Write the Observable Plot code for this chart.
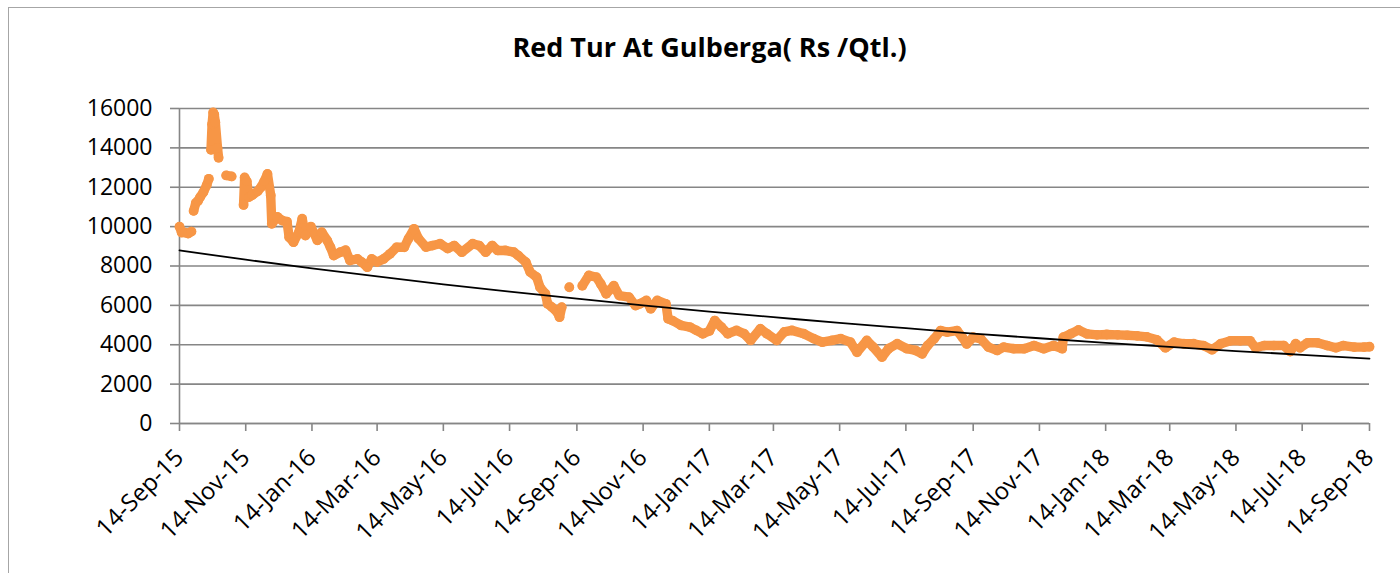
<!DOCTYPE html>
<html>
<head>
<meta charset="utf-8">
<script src="https://cdn.jsdelivr.net/npm/d3@7"></script>
<script src="https://cdn.jsdelivr.net/npm/@observablehq/plot@0.6"></script>
<style>
  body { margin: 0; background: #fff; }
  #wrap { position: relative; width: 1400px; height: 573px; overflow: hidden; font-family: "Open Sans", sans-serif; }
  #frame { position: absolute; left: 8px; top: 7px; width: 1430px; height: 620px; border: 1.5px solid #a6a6a6; box-sizing: border-box; }
  #title { position: absolute; left: 8px; width: 1403px; top: 33px; text-align: center; font-weight: 700; font-size: 27px; line-height: 1; color: #000; }
  #chart { position: absolute; left: 0; top: 0; }
</style>
</head>
<body>
<div id="wrap">
  <div id="frame"></div>
  <div id="chart"></div>
  <div id="title">Red Tur At Gulberga( Rs /Qtl.)</div>
</div>
<script>
// ---- Data ----
const dates = [
  "2015-09-14","2015-09-16","2015-09-19","2015-09-22","2015-09-25","2015-09-26",
  "2015-09-27","2015-09-29","2015-10-01","2015-10-03","2015-10-06","2015-10-09","2015-10-11","2015-10-12",
  "2015-10-13","2015-10-14","2015-10-15","2015-10-16","2015-10-17","2015-10-19","2015-10-20","2015-10-24",
  "2015-10-27","2015-11-01","2015-11-06",
  "2015-11-12","2015-11-13","2015-11-15","2015-11-17","2015-11-20","2015-11-25","2015-11-28","2015-12-01",
  "2015-12-04","2015-12-07","2015-12-08","2015-12-13","2015-12-18","2015-12-22","2015-12-24","2015-12-28",
  "2016-01-02","2016-01-05","2016-01-08","2016-01-13","2016-01-19","2016-01-23","2016-01-28","2016-01-31",
  "2016-02-03","2016-02-09","2016-02-14","2016-02-18","2016-02-25","2016-02-29","2016-03-05","2016-03-09",
  "2016-03-14","2016-03-20","2016-03-26","2016-04-01","2016-04-08","2016-04-12","2016-04-17","2016-04-21",
  "2016-04-28","2016-05-04","2016-05-11","2016-05-18","2016-05-24","2016-05-31","2016-06-10","2016-06-16",
  "2016-06-22","2016-06-28","2016-07-03","2016-07-10","2016-07-18","2016-07-22","2016-07-29","2016-08-02",
  "2016-08-08","2016-08-11","2016-08-16","2016-08-18","2016-08-22","2016-08-27","2016-08-29","2016-08-31",
  "2016-09-03","2016-09-07","2016-09-12",
  "2016-09-19","2016-09-25","2016-10-02","2016-10-06","2016-10-11","2016-10-18","2016-10-23","2016-11-01",
  "2016-11-07","2016-11-11","2016-11-17","2016-11-21","2016-11-27","2016-12-05","2016-12-07","2016-12-11",
  "2016-12-19","2016-12-27","2017-01-02","2017-01-08","2017-01-14","2017-01-19","2017-01-25","2017-01-31",
  "2017-02-08","2017-02-15","2017-02-21","2017-03-02","2017-03-08","2017-03-17","2017-03-24","2017-03-31",
  "2017-04-11","2017-04-20","2017-04-28","2017-05-07","2017-05-15","2017-05-24","2017-05-30","2017-06-08",
  "2017-06-14","2017-06-22","2017-06-28","2017-07-06","2017-07-15","2017-07-23","2017-07-29","2017-08-03",
  "2017-08-09","2017-08-15","2017-08-21","2017-08-30","2017-09-04","2017-09-08","2017-09-14","2017-09-21",
  "2017-09-28","2017-10-06","2017-10-12","2017-10-21","2017-10-31","2017-11-09","2017-11-18","2017-11-27",
  "2017-12-05","2017-12-06","2017-12-13","2017-12-20","2017-12-28","2018-01-06","2018-01-15","2018-01-25",
  "2018-02-03","2018-02-12","2018-02-21","2018-03-02","2018-03-10","2018-03-18","2018-03-27","2018-04-05",
  "2018-04-14","2018-04-22","2018-04-30","2018-05-09","2018-05-18","2018-05-27","2018-06-01","2018-06-09",
  "2018-06-18","2018-06-27","2018-07-03","2018-07-08","2018-07-12","2018-07-19","2018-07-28","2018-08-06",
  "2018-08-14","2018-08-21","2018-08-31","2018-09-09","2018-09-14"
];
const prices = [
  10000,9700,9700,9650,9750,null,
  10800,11200,11300,11500,11750,12100,12430,null,
  13900,15200,15800,15700,15300,14000,13500,null,
  12600,12550,null,
  11100,12500,12300,11500,11600,11800,12000,12300,
  12680,11600,10140,10500,10300,10250,9460,9210,
  9720,10400,9550,10000,9300,9720,9300,8960,
  8530,8700,8800,8280,8360,8190,7940,8360,
  8200,8360,8620,8950,8950,9400,9890,9400,
  8960,9040,9130,8890,9040,8700,9130,9040,
  8700,9040,8790,8790,8700,8530,8190,7690,
  7430,6920,6590,6080,5910,5650,5400,5910,
  null,6920,null,
  7000,7520,7430,7090,6590,7000,6500,6420,
  5990,6080,6250,5830,6250,6080,5320,5230,
  4980,4900,4730,4560,4700,5230,4900,4560,
  4730,4560,4220,4810,4560,4220,4650,4730,
  4560,4310,4130,4220,4310,4130,3620,4220,
  3880,3370,3800,4050,3800,3710,3540,3960,
  4300,4720,4640,4720,4380,4040,4380,4300,
  3880,3710,3880,3800,3800,3960,3800,3960,
  3800,4380,4560,4750,4550,4500,4520,4500,
  4480,4450,4400,4250,3850,4130,4050,4050,
  3960,3750,4050,4200,4200,4200,3850,3960,
  3960,3960,3650,4050,3850,4100,4100,3960,
  3850,3960,3880,3880,3900
];
const xTicks = [
  "2015-09-14","2015-11-14","2016-01-14","2016-03-14","2016-05-14","2016-07-14","2016-09-14",
  "2016-11-14","2017-01-14","2017-03-14","2017-05-14","2017-07-14","2017-09-14","2017-11-14",
  "2018-01-14","2018-03-14","2018-05-14","2018-07-14","2018-09-14"
];
const yTicks = [0, 2000, 4000, 6000, 8000, 10000, 12000, 14000, 16000];
// Exponential trendline values at each x tick date
const trendValues = [
  8790, 8320, 7880, 7470, 7070, 6700, 6340, 6000, 5680, 5400,
  5110, 4840, 4570, 4330, 4100, 3890, 3680, 3490, 3300
];

// ---- Build tables ----
const parse = d3.utcParse("%Y-%m-%d");
const rows = dates.map((d, i) => ({date: parse(d), price: prices[i]}));
const pts = rows.filter(d => d.price != null);
const xTickDates = xTicks.map(parse);
const trend = xTickDates.map((d, i) => ({date: d, value: trendValues[i]}));

const gray = "#868686";
const orange = "#F79646";
const fmt = d3.utcFormat("%d-%b-%y");

const chart = Plot.plot({
  width: 1400,
  height: 573,
  marginLeft: 179,
  marginRight: 31,
  marginTop: 108,
  marginBottom: 150,
  style: {fontFamily: '"Open Sans", sans-serif', fontSize: "23px", color: "#000", background: "transparent"},
  x: {type: "utc", domain: [xTickDates[0], xTickDates[xTickDates.length - 1]]},
  y: {domain: [0, 16000]},
  marks: [
    Plot.gridY(yTicks, {stroke: gray, strokeOpacity: 1, strokeWidth: 1.6}),
    Plot.axisY(yTicks, {tickSize: 9, tickPadding: 18, stroke: gray, strokeWidth: 1.6, tickFormat: d3.format("d"), fontSize: 23, label: null}),
    Plot.ruleX([xTickDates[0]], {stroke: gray, strokeWidth: 1.6}),
    Plot.axisX(xTickDates, {tickSize: 8, tickRotate: -45, tickPadding: 22, tickFormat: fmt, stroke: gray, strokeWidth: 1.6, fontSize: 24, label: null}),
    Plot.ruleY([0], {stroke: gray, strokeWidth: 1.6}),
    Plot.line(rows, {x: "date", y: "price", stroke: orange, strokeWidth: 9.4, strokeLinecap: "round", strokeLinejoin: "round"}),
    Plot.dot(pts, {x: "date", y: "price", r: 4.9, fill: orange}),
    Plot.line(trend, {x: "date", y: "value", curve: "monotone-x", stroke: "#000", strokeWidth: 1.8})
  ]
});
document.getElementById("chart").appendChild(chart);
</script>
</body>
</html>
